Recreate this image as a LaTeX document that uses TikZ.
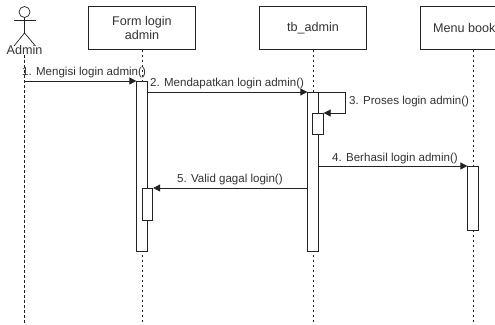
\documentclass[tikz,border=0pt]{standalone}
\usepackage{fontspec}
\setmainfont{Liberation Sans}
\usetikzlibrary{arrows.meta}
\definecolor{inkc}{HTML}{222222}
\definecolor{txtc}{HTML}{333333}
\tikzset{
  lifebox/.style={draw=inkc,line width=0.8pt,fill=white,minimum width=107pt,minimum height=43pt,inner sep=0pt,align=center,text=txtc,font=\fontsize{12.6}{14.5}\selectfont},
  actv/.style={draw=inkc,line width=0.8pt,fill=white,minimum width=#1,inner sep=0pt,anchor=north},
  actv/.default=10.5pt,
  lifeline/.style={draw=inkc,line width=0.8pt,dash pattern=on 2.5pt off 2.5pt},
  msg/.style={draw=inkc,line width=0.8pt,-{Triangle[length=7pt,width=7pt]}},
  msglabel/.style={inner sep=0pt,text=txtc,font=\fontsize{11.55}{13}\selectfont},
  stick/.style={draw=inkc,line width=0.7pt}
}
\begin{document}
\begin{tikzpicture}[x=1pt,y=-1pt]
\useasboundingbox (0,0) rectangle (495,324);
\fill[white] (0,0) rectangle (495,324);
\begin{scope}
\clip (0,0) rectangle (495,324);
% lifeline heads
\node[lifebox] (form) at (142,28) {Form login\\admin};
\node[lifebox] (tb) at (313,28) {tb\_admin};
\node[lifebox,anchor=west] (menu) at (419.5,28) {};
\end{scope}
\node[text=txtc,font=\fontsize{12.6}{14.5}\selectfont,inner sep=0pt,anchor=west] (menutext) at (433,28) {Menu book};
% actor
\node[stick,circle,minimum size=11pt,inner sep=0pt] (head) at (24.5,12) {};
\coordinate (hip) at (24.5,33);
\coordinate (armL) at (14,20.5);
\coordinate (armR) at (35.5,20.5);
\coordinate (legL) at (14,46);
\coordinate (legR) at (35.5,46);
\draw[stick] (head.south) -- (hip);
\draw[stick] (armL) -- (armR);
\draw[stick] (legL) -- (hip) -- (legR);
\node[inner sep=0pt,text=txtc,font=\fontsize{12.6}{14}\selectfont] (admin) at (24.5,49.5) {Admin};
% lifelines
\coordinate (endA) at (24.5,324);
\coordinate (endF) at (142,324);
\coordinate (endT) at (313,324);
\coordinate (endM) at (473,324);
\coordinate (startA) at (24.5,55);
\coordinate (startM) at (473,49.5);
\draw[lifeline] (startA) -- (endA);
\draw[lifeline] (form.south) -- (endF);
\draw[lifeline] (tb.south) -- (endT);
\draw[lifeline] (startM) -- (endM);
% activations
\node[actv,minimum height=170pt] (aF) at (142,81) {};
\node[actv,minimum height=159pt] (aT) at (313,92) {};
\node[actv,minimum height=21pt] (aT2) at (318,113) {};
\node[actv,minimum height=32pt] (aF2) at (147.5,188) {};
\node[actv,minimum height=64pt] (aM) at (473,166) {};
% messages
\draw[msg] (24.5,81) -- (aF.north west);
\draw[msg] (aF.east |- 0,92) -- (aT.north west);
\draw[msg] (aT.north east) -- (345,92) -- (345,113) -- (aT2.north east);
\draw[msg] (aT.east |- 0,166) -- (aM.north west);
\draw[msg] (aT.west |- 0,188) -- (aF2.north east);
% labels
\node[msglabel,anchor=base west] (m1) at (22,75) {1. Mengisi login admin()};
\node[msglabel,anchor=base west] (m2) at (150,86) {2. Mendapatkan login admin()};
\node[msglabel,anchor=base west] (m3) at (349,104) {3. Proses login admin()};
\node[msglabel,anchor=base west] (m4) at (332,161) {4. Berhasil login admin()};
\node[msglabel,anchor=base west] (m5) at (177,182) {5. Valid gagal login()};
\end{tikzpicture}
\end{document}
